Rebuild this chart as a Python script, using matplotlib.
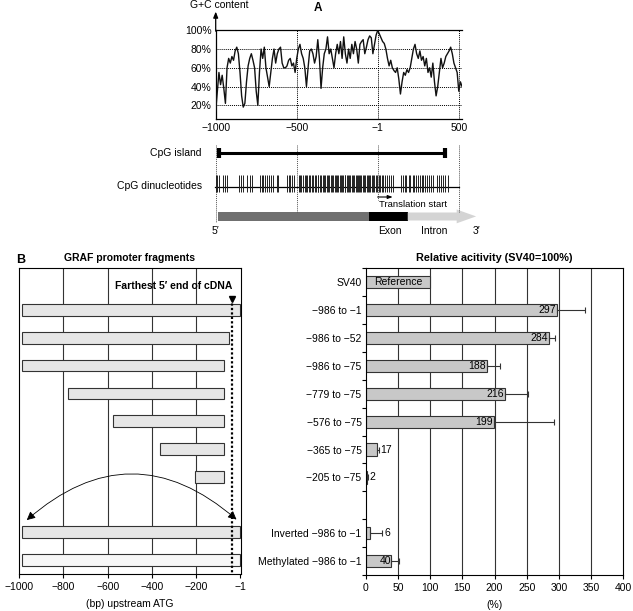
import matplotlib
matplotlib.use('Agg')
import matplotlib.pyplot as plt
import numpy as np
from matplotlib.patches import Polygon, FancyArrowPatch, Rectangle

plt.rcParams['font.family'] = ['Liberation Sans', 'DejaVu Sans']
plt.rcParams['font.size'] = 7

W, H = 633, 611
M = '\u2212'

# ---------------- data ----------------
gc_start, gc_end = -1000, 520
gc_values = [14, 35, 55, 42, 52, 38, 22, 60, 70, 65, 72, 68, 78, 82, 75, 55, 30, 18, 22, 45,
             62, 70, 75, 68, 60, 35, 20, 55, 80, 70, 82, 60, 50, 40, 55, 70, 80, 65, 75, 80,
             82, 65, 60, 60, 62, 68, 70, 62, 65, 55, 70, 80, 85, 75, 70, 60, 40, 60, 78, 80,
             75, 65, 72, 90, 70, 38, 60, 75, 80, 93, 75, 80, 70, 60, 75, 85, 75, 88, 70, 93,
             75, 65, 80, 70, 85, 75, 88, 80, 65, 85, 88, 90, 75, 82, 90, 94, 92, 75, 85, 95,
             100, 96, 92, 88, 86, 80, 70, 62, 68, 60, 57, 55, 60, 48, 32, 45, 55, 52, 58, 55,
             60, 70, 80, 85, 75, 70, 78, 68, 72, 62, 70, 55, 60, 50, 65, 45, 30, 40, 55, 70,
             60, 65, 72, 75, 78, 82, 75, 65, 60, 55, 35, 45, 40]
gc_ticks = [-1000, -500, -1, 500]
gc_ticklabels = [M + '1000', M + '500', M + '1', '500']
gc_yticks = [20, 40, 60, 80, 100]

cpg_island = (-980, 415)
cpg_sites = [-998, -991, -981, -955, -944, -933, -855, -846, -834, -804, -789, -775, -728, -717,
             -707, -695, -684, -671, -660, -649, -624, -614, -563, -550, -540, -528, -518,
             -489, -480, -471, -460, -452, -441, -434, -424, -417, -404, -399, -388, -381, -371,
             -366, -355, -349, -339, -331, -323, -314, -306, -298, -289, -282, -275, -265, -259,
             -250, -244, -235, -229, -220, -214, -205, -200, -190, -184, -175, -169, -160, -153,
             -146, -137, -131, -121, -116, -107, -101, -93, -84, -78, -68, -63, -53, -47, -37,
             -30, -23, -13, -6, 6, 15, 24, 34, 45, 56, 67, 79, 91,
             145, 153, 166, 177, 191, 202, 215, 225, 239, 251, 261, 272,
             281, 292, 303, 315, 327, 339, 365, 377, 391, 402, 416, 435]
gene_promoter = (-985, -54)
gene_exon = (-54, 185)
gene_intron = (185, 607)

row_labels = ['SV40', M + '986 to ' + M + '1', M + '986 to ' + M + '52', M + '986 to ' + M + '75',
              M + '779 to ' + M + '75', M + '576 to ' + M + '75', M + '365 to ' + M + '75',
              M + '205 to ' + M + '75', '', 'Inverted ' + M + '986 to ' + M + '1',
              'Methylated ' + M + '986 to ' + M + '1']
frag_start = [None, -986, -986, -986, -779, -576, -365, -205, None, -986, -986]
frag_end = [None, -1, -52, -75, -75, -75, -75, -75, None, -1, -1]
activity = [100, 297, 284, 188, 216, 199, 17, 2, None, 6, 40]
activity_err = [0, 43, 10, 20, 36, 93, 3, 1, None, 20, 12]
cdna_end = -41

frag_xticks = [-1000, -800, -600, -400, -200, -1]
frag_xticklabels = [M + '1000', M + '800', M + '600', M + '400', M + '200', M + '1']
act_xticks = [0, 50, 100, 150, 200, 250, 300, 350, 400]


def rect(l, t, r, b):
    return [l / W, 1 - b / H, (r - l) / W, (b - t) / H]


fig = plt.figure(figsize=(W / 100, H / 100), dpi=100)

# ---------------- Panel A: GC content ----------------
ax = fig.add_axes(rect(215.7, 30.3, 461.7, 119.3))
gx = np.linspace(gc_start, gc_end, len(gc_values))
ax.plot(gx, gc_values, color='#111111', lw=1.0, zorder=3)
ax.set_xlim(-1000, 518)
ax.set_ylim(5, 100)
for y in [20, 40, 60, 80]:
    ax.axhline(y, color='black', lw=0.7, ls=(0, (1, 1)), zorder=1)
for x in [-500, -1, 500]:
    ax.axvline(x, color='black', lw=0.7, ls=(0, (1, 1)), zorder=1)
ax.set_xticks(gc_ticks)
ax.set_xticklabels(gc_ticklabels, fontsize=7.5)
ax.set_yticks(gc_yticks)
ax.set_yticklabels([f'{v}%' for v in gc_yticks], fontsize=7.5)
ax.tick_params(length=0, pad=3)
ax.spines['right'].set_visible(False)
for s in ['left', 'bottom', 'top']:
    ax.spines[s].set_linewidth(0.9)
ax.annotate('', xy=(0, 1.21), xytext=(0, 0.99), xycoords='axes fraction',
            arrowprops=dict(arrowstyle='-|>,head_length=0.5,head_width=0.2', lw=0.9, color='black',
                            shrinkA=0, shrinkB=0), annotation_clip=False)
fig.text(190 / W, 1 - 5 / H, 'G+C content', ha='left', va='center', fontsize=7.5)
fig.text(318 / W, 1 - 8 / H, 'A', ha='center', va='center', fontsize=8.5, fontweight='bold')

# ---------------- Panel A: gene map ----------------
a2 = fig.add_axes(rect(215.7, 135, 461.7, 240))
a2.set_xlim(-1000, 518)
a2.set_ylim(240, 135)
a2.axis('off')
for x, y1 in [(-1000, 222), (-500, 212), (-1, 200), (500, 212)]:
    a2.plot([x, x], [145, y1], color='#555555', lw=0.7, ls=(0, (1, 1)), clip_on=False)
a2.plot(list(cpg_island), [153, 153], color='black', lw=2.2, solid_capstyle='butt')
a2.plot(list(cpg_island), [153, 153], ls='none', marker='|', ms=7, mew=3, color='black')
a2.text(-1085, 153, 'CpG island', ha='right', va='center', fontsize=7.5)
a2.plot([-1005, 500], [187.5, 187.5], color='black', lw=0.9, clip_on=False)
a2.vlines(cpg_sites, 175, 192, color='#222222', lw=0.7)
a2.text(-1085, 186, 'CpG dinucleotides', ha='right', va='center', fontsize=7.5)
a2.annotate('', xy=(92, 197), xytext=(-1, 197),
            arrowprops=dict(arrowstyle='-|>,head_length=0.4,head_width=0.15', lw=0.8, color='black',
                            shrinkA=0, shrinkB=0))
a2.text(5, 205, 'Translation start', ha='left', va='center', fontsize=6.8)
a2.add_patch(Rectangle((gene_promoter[0], 211.7), gene_promoter[1] - gene_promoter[0], 9.3,
                       facecolor='#707070', edgecolor='none', clip_on=False))
a2.add_patch(Rectangle((gene_exon[0], 211.7), gene_exon[1] - gene_exon[0], 9.3,
                       facecolor='black', edgecolor='none', clip_on=False))
head_start = gene_intron[1] - 120
a2.add_patch(Polygon([(gene_intron[0], 212.5), (head_start, 212.5), (head_start, 209.5),
                      (gene_intron[1], 216.4), (head_start, 223.3), (head_start, 220.5),
                      (gene_intron[0], 220.5)], closed=True, facecolor='#d4d4d4',
                     edgecolor='none', clip_on=False))
a2.text(-1000, 231.5, '5\u2032', ha='center', va='center', fontsize=7.5)
a2.text(72, 231.5, 'Exon', ha='center', va='center', fontsize=7.5)
a2.text(347, 231.5, 'Intron', ha='center', va='center', fontsize=7.5)
a2.text(607, 231.5, '3\u2032', ha='center', va='center', fontsize=7.5, clip_on=False)

# ---------------- Panel B left: fragments ----------------
n = len(row_labels)
ylim = (n - 0.5, -0.5)
bl = fig.add_axes(rect(19, 268.3, 240.7, 574))
bl.set_xlim(-1000, 0)
bl.set_ylim(*ylim)
for x in [-800, -600, -400, -200]:
    bl.axvline(x, color='#333333', lw=0.8, zorder=0)
for i in range(n):
    if frag_start[i] is None:
        continue
    fc = '#f7f7f7' if i == n - 1 else '#e6e6e6'
    bl.barh(i, frag_end[i] - frag_start[i], left=frag_start[i], height=0.42,
            color=fc, edgecolor='#333333', lw=0.8, zorder=2)
bl.plot([cdna_end, cdna_end], [0.62, n - 0.5], color='black', lw=1.6, ls=(0, (1, 1)), zorder=3)
bl.plot([cdna_end], [0.62], marker='v', ms=5, color='black', zorder=4)
bl.text(-36, 0.12, 'Farthest 5\u2032 end of cDNA', ha='right', va='center', fontsize=7.5,
        fontweight='bold')
arc = FancyArrowPatch((-965, 8.56), (-19, 8.54), connectionstyle='arc3,rad=-0.435',
                      arrowstyle='<|-|>,head_length=0.5,head_width=0.25', mutation_scale=10,
                      lw=0.6, color='black', shrinkA=0, shrinkB=0, zorder=3)
bl.add_patch(arc)
bl.set_yticks([])
bl.set_xticks(frag_xticks)
bl.set_xticklabels(frag_xticklabels, fontsize=7.5)
bl.tick_params(axis='x', length=3, width=0.8, pad=3)
for s in bl.spines.values():
    s.set_linewidth(0.8)
bl.set_xlabel('(bp) upstream ATG', fontsize=7.5, labelpad=5)
bl.set_title('GRAF promoter fragments', fontsize=7.5, fontweight='bold', pad=5)
fig.text(21 / W, 1 - 260 / H, 'B', ha='center', va='center', fontsize=9, fontweight='bold')

# ---------------- Panel B right: activity ----------------
br = fig.add_axes(rect(365.7, 268.3, 623.3, 575))
br.set_xlim(0, 400)
br.set_ylim(*ylim)
for x in act_xticks[1:-1]:
    br.axvline(x, color='#333333', lw=0.8, zorder=0)
for i in range(n):
    if activity[i] is None:
        continue
    v = activity[i]
    e = activity_err[i]
    br.barh(i, v, height=0.44, color='#c8c8c8', edgecolor='#333333', lw=0.8, zorder=2)
    if e:
        br.errorbar(v, i, xerr=[[0], [e]], fmt='none', ecolor='#333333', elinewidth=0.8,
                    capsize=2, capthick=0.8, zorder=3)
    if i == 0:
        br.text(v / 2, i, 'Reference', ha='center', va='center', fontsize=7.5, zorder=4)
    elif v >= 30:
        br.text(v - 1, i, f'{v}', ha='right', va='center', fontsize=7.5, zorder=4)
    else:
        br.text(v + e + 3, i, f'{v}', ha='left', va='center', fontsize=7.5, zorder=4)
br.set_yticks(range(n))
br.set_yticklabels(row_labels, fontsize=7.5)
br.set_yticks([i - 0.5 for i in range(n + 1)], minor=True)
br.tick_params(axis='y', which='major', length=0, pad=3)
br.tick_params(axis='y', which='minor', length=3, width=0.8)
br.set_xticks(act_xticks)
br.set_xticklabels([str(v) for v in act_xticks], fontsize=7.5)
br.tick_params(axis='x', length=3, width=0.8, pad=3)
for s in br.spines.values():
    s.set_linewidth(0.8)
br.set_xlabel('(%)', fontsize=7.5, labelpad=5)
br.set_title('Relative acitivity (SV40=100%)', fontsize=7.8, fontweight='bold', pad=5)

fig.savefig('out.png', dpi=100)
